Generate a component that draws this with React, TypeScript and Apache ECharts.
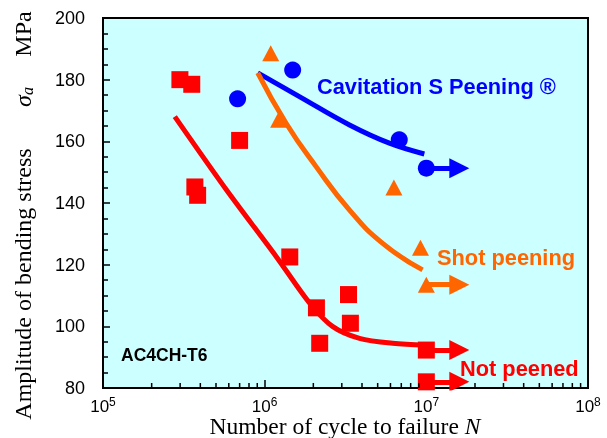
import React, { useEffect, useRef } from "react";
import * as echarts from "echarts";

// ---- data ----
const notPeenedPts: [number, number][] = [
  [2.99e5, 180], [3.54e5, 178.5], [3.7e5, 145.2], [3.85e5, 142.5], [7.0e5, 160.3],
  [1.43e6, 122.5], [2.09e6, 106], [2.19e6, 94.5], [3.3e6, 110.3], [3.39e6, 101],
  [1.0e7, 92.3], [1.0e7, 82],
];
const cavitationPts: [number, number][] = [
  [6.8e5, 173.8], [1.49e6, 183.1], [6.8e6, 160.5], [1.0e7, 151.3],
];
const shotPts: [number, number][] = [
  [1.09e6, 188.6], [1.22e6, 167], [6.3e6, 145], [9.2e6, 125.5], [1.0e7, 113.5],
];
const notPeenedCurve: [number, number][] = [
  [2.78e5, 168], [5.81e5, 144.2], [1.18e6, 122.6], [1.9e6, 107.5], [2.64e6, 99.9],
  [3.86e6, 96.1], [6.19e6, 94.5], [1.0e7, 93.9],
];
const cavitationCurve: [number, number][] = [
  [9.06e5, 182.2], [1.64e6, 174.5], [3.35e6, 165.3], [5.91e6, 159.4], [9.72e6, 155.9],
];
const shotCurve: [number, number][] = [
  [9.06e5, 182.2], [1.36e6, 165.8], [2.08e6, 151.8], [3.35e6, 137.7], [5.37e6, 126.9], [9.48e6, 118.3],
];
// run-out arrows: [startN, endN, stress]
const runoutBlue: [number, number, number][] = [[1.0e7, 1.6e7, 151.3]];
const runoutOrange: [number, number, number][] = [[1.0e7, 1.6e7, 113.5]];
const runoutRed: [number, number, number][] = [[1.0e7, 1.6e7, 92.3], [1.0e7, 1.6e7, 82]];
const xMinorTicks: number[] = [];
for (const dec of [1e5, 1e6, 1e7]) {
  for (const m of [2, 3, 4, 5, 6, 7, 8, 9]) xMinorTicks.push(m * dec);
}

const RED = "#FF0000";
const BLUE = "#0000FF";
const ORANGE = "#FF6600";
const SANS = "Liberation Sans, Arial, sans-serif";
const SERIF = "Liberation Serif, Times New Roman, serif";

function arrows(name: string, arr: [number, number, number][], color: string) {
  return {
    type: "lines",
    name,
    coordinateSystem: "cartesian2d",
    symbol: ["none", "triangle"],
    symbolSize: 20,
    lineStyle: { color, width: 5, opacity: 1 },
    data: arr.map(([a, b, s]) => ({ coords: [[a, s], [b, s]] })),
    z: 3,
  };
}

export default function App() {
  const ref = useRef<HTMLDivElement>(null);
  useEffect(() => {
    if (!ref.current) return;
    const chart = echarts.init(ref.current, undefined, { renderer: "svg" });
    chart.setOption({
      animation: false,
      grid: {
        left: 103, right: 19, top: 18, bottom: 50,
        show: true, backgroundColor: "#CCFFFF", borderColor: "#000", borderWidth: 2,
      },
      xAxis: {
        type: "log", min: 1e5, max: 1e8, logBase: 10,
        axisLine: { show: true, lineStyle: { color: "#000", width: 2 } },
        axisTick: { show: true, inside: true, length: 8, lineStyle: { color: "#000", width: 1.5 } },
        splitLine: { show: false },
        axisLabel: {
          margin: 8,
          color: "#000",
          fontFamily: SANS,
          fontSize: 17,
          formatter: (v: number) => "10{sup|" + Math.round(Math.log10(v)) + "}",
          rich: {
            sup: { fontSize: 12, fontFamily: SANS, color: "#000", padding: [0, 0, 9, 0] },
          },
        },
      },
      yAxis: {
        type: "value", min: 80, max: 200, interval: 20,
        axisLine: { show: true, lineStyle: { color: "#000", width: 2 } },
        axisTick: { show: true, inside: true, length: 7, lineStyle: { color: "#000", width: 1.5 } },
        minorTick: { show: true, splitNumber: 4, length: 5, lineStyle: { color: "#000", width: 1.5 } },
        splitLine: { show: false },
        axisLabel: { margin: 18, color: "#000", fontFamily: SANS, fontSize: 18 },
      },
      series: [
        {
          type: "custom",
          name: "xMinorTicks",
          data: xMinorTicks.map((v) => [v, 80]),
          renderItem: (_p: any, api: any) => {
            const p = api.coord([api.value(0), api.value(1)]);
            return {
              type: "line",
              shape: { x1: p[0], y1: p[1], x2: p[0], y2: p[1] - 5 },
              style: { stroke: "#000", lineWidth: 1.5 },
            };
          },
          z: 10,
          silent: true,
        },
        {
          type: "line", name: "notPeenedCurve", data: notPeenedCurve, smooth: 0.3,
          showSymbol: false, lineStyle: { color: RED, width: 5 }, z: 2,
        },
        {
          type: "line", name: "cavitationCurve", data: cavitationCurve, smooth: 0.4,
          showSymbol: false, lineStyle: { color: BLUE, width: 5 }, z: 2,
        },
        {
          type: "line", name: "shotCurve", data: shotCurve, smooth: 0.5,
          showSymbol: false, lineStyle: { color: ORANGE, width: 5 }, z: 2,
        },
        arrows("runoutBlue", runoutBlue, BLUE),
        arrows("runoutOrange", runoutOrange, ORANGE),
        arrows("runoutRed", runoutRed, RED),
        {
          type: "scatter", name: "Not peened", data: notPeenedPts, symbol: "rect",
          symbolSize: 17, itemStyle: { color: RED, opacity: 1 }, clip: false, z: 4,
        },
        {
          type: "scatter", name: "Cavitation", data: cavitationPts, symbol: "circle",
          symbolSize: 17, itemStyle: { color: BLUE, opacity: 1 }, clip: false, z: 4,
        },
        {
          type: "scatter", name: "Shot", data: shotPts, symbol: "triangle",
          symbolSize: [17, 16], itemStyle: { color: ORANGE, opacity: 1 }, clip: false, z: 4,
        },
      ],
      graphic: [
        {
          type: "text", x: 317, y: 86, z: 10,
          style: { text: "Cavitation S Peening ®", fill: BLUE, font: "bold 21.8px " + SANS, verticalAlign: "middle" },
        },
        {
          type: "text", x: 437, y: 257, z: 10,
          style: { text: "Shot peening", fill: ORANGE, font: "bold 21.8px " + SANS, verticalAlign: "middle" },
        },
        {
          type: "text", x: 460, y: 368, z: 10,
          style: { text: "Not peened", fill: RED, font: "bold 21.8px " + SANS, verticalAlign: "middle" },
        },
        {
          type: "text", x: 121, y: 355, z: 10,
          style: { text: "AC4CH-T6", fill: "#000", font: "bold 17.5px " + SANS, verticalAlign: "middle" },
        },
        {
          type: "text", x: 345, y: 426, z: 10,
          style: {
            text: "Number of cycle to failure {i|N}",
            fill: "#000", font: "23.5px " + SERIF, align: "center", verticalAlign: "middle",
            rich: { i: { fontStyle: "italic", fontSize: 23.5, fontFamily: SERIF, fill: "#000" } },
          },
        },
        {
          type: "text", x: 23, y: 284, rotation: Math.PI / 2, z: 10,
          style: {
            text: "Amplitude of bending stress",
            fill: "#000", font: "24px " + SERIF, align: "center", verticalAlign: "middle",
          },
        },
        {
          type: "text", x: 23, y: 97, rotation: Math.PI / 2, z: 10,
          style: {
            text: "{i|σ}{sub|a}",
            fill: "#000", font: "24px " + SERIF, align: "center", verticalAlign: "middle",
            rich: {
              i: { fontStyle: "italic", fontSize: 24, fontFamily: SERIF, fill: "#000" },
              sub: { fontStyle: "italic", fontSize: 16, fontFamily: SERIF, fill: "#000", padding: [9, 0, 0, 0] },
            },
          },
        },
        {
          type: "text", x: 23, y: 34, rotation: Math.PI / 2, z: 10,
          style: {
            text: "MPa",
            fill: "#000", font: "24px " + SERIF, align: "center", verticalAlign: "middle",
          },
        },
      ],
    });
    return () => chart.dispose();
  }, []);
  return (
    <div
      ref={ref}
      style={{ position: "fixed", left: 0, top: 0, width: 607, height: 438 }}
    />
  );
}
